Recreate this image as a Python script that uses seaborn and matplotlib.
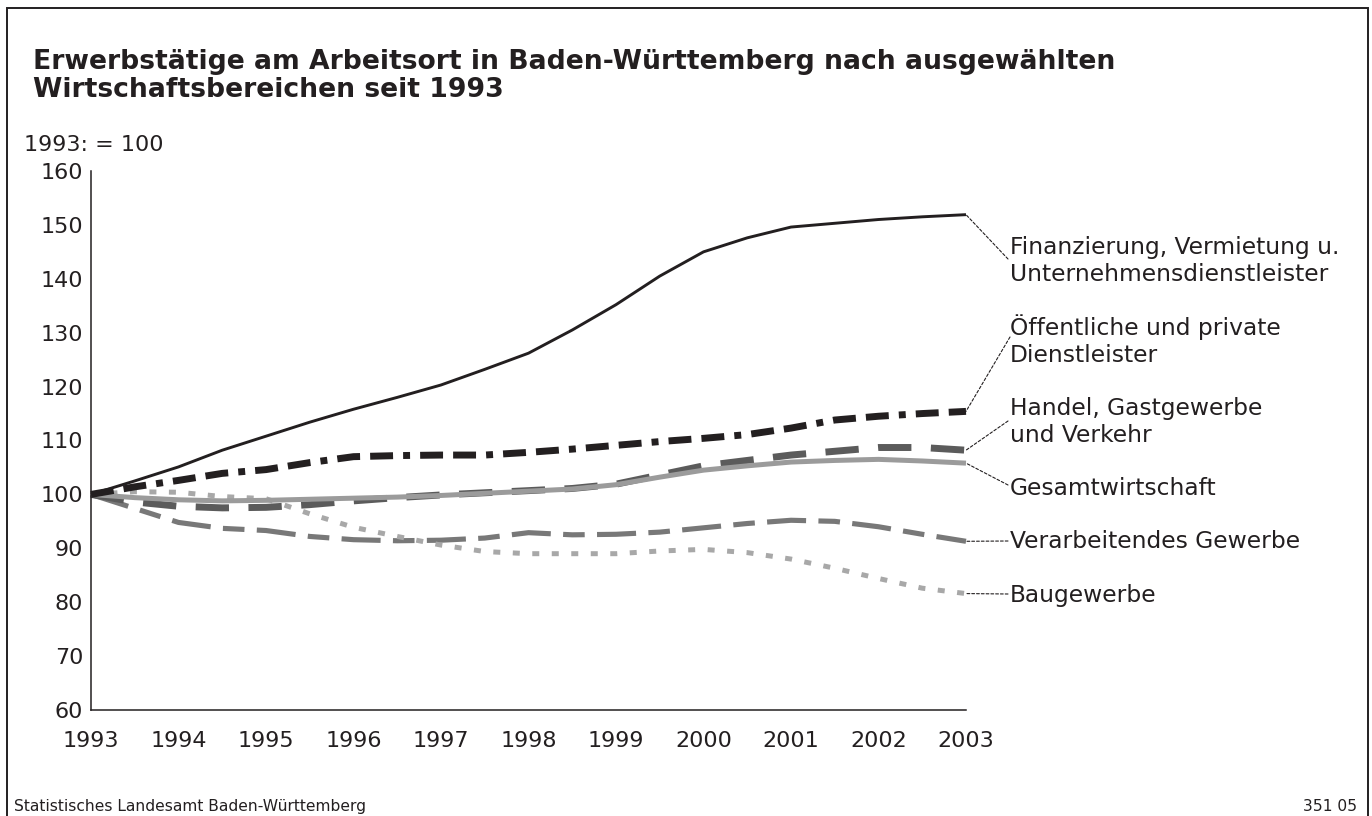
import numpy as np
import pandas as pd
import matplotlib
matplotlib.use("Agg")
import matplotlib.pyplot as plt
from matplotlib.patches import Rectangle
import seaborn as sns

# ---------------- data ----------------
half_years = [1993.0, 1993.5, 1994.0, 1994.5, 1995.0, 1995.5, 1996.0, 1996.5,
              1997.0, 1997.5, 1998.0, 1998.5, 1999.0, 1999.5, 2000.0, 2000.5,
              2001.0, 2001.5, 2002.0, 2002.5, 2003.0]

finanzierung = [100.0, 102.5, 105.1, 108.2, 110.8, 113.4, 115.8, 118.0,
                120.3, 123.2, 126.2, 130.5, 135.2, 140.5, 145.0, 147.6,
                149.6, 150.3, 151.0, 151.5, 151.9]
oeffentliche = [100.0, 101.4, 102.6, 103.9, 104.6, 105.9, 107.0, 107.2,
                107.3, 107.3, 107.8, 108.4, 109.1, 109.8, 110.4, 111.1,
                112.3, 113.8, 114.5, 115.0, 115.4]
handel = [100.0, 98.6, 97.8, 97.5, 97.6, 98.1, 98.8, 99.4,
          99.9, 100.3, 100.7, 101.1, 101.9, 103.6, 105.3, 106.3,
          107.3, 108.0, 108.7, 108.7, 108.2]
gesamt = [100.0, 99.4, 99.0, 98.8, 98.9, 99.1, 99.3, 99.5,
          99.8, 100.2, 100.6, 101.0, 101.8, 103.2, 104.5, 105.3,
          106.0, 106.3, 106.5, 106.2, 105.8]
verarbeitend = [100.0, 97.4, 94.8, 93.7, 93.3, 92.2, 91.6, 91.4,
                91.5, 91.9, 92.9, 92.5, 92.6, 93.0, 93.8, 94.6,
                95.2, 95.0, 94.0, 92.6, 91.3]
bau = [100.0, 100.5, 100.4, 99.6, 99.2, 96.4, 93.9, 92.2,
       90.6, 89.4, 89.0, 89.0, 89.0, 89.5, 89.8, 89.2,
       88.0, 86.3, 84.4, 82.6, 81.6]

series_names = ["Verarbeitendes Gewerbe", "Baugewerbe", "Handel, Gastgewerbe\nund Verkehr",
                "Gesamtwirtschaft", "Öffentliche und private\nDienstleister",
                "Finanzierung, Vermietung u.\nUnternehmensdienstleister"]
series_values = [verarbeitend, bau, handel, gesamt, oeffentliche, finanzierung]

year_ticks = [1993, 1994, 1995, 1996, 1997, 1998, 1999, 2000, 2001, 2002, 2003]
y_ticks = [60, 70, 80, 90, 100, 110, 120, 130, 140, 150, 160]

# ---------------- styles ----------------
styles = [
    dict(color="#787878", lw=3.7, ls=(0, (7.6, 2.4, 4.2, 2.4))),
    dict(color="#a8a8a8", lw=3.6, ls=(0, (1.4, 2.5))),
    dict(color="#5b5b5b", lw=5.0, ls=(0, (4.8, 2.8))),
    dict(color="#9b9b9b", lw=3.6, ls="-"),
    dict(color="#231f20", lw=5.0, ls=(0, (3.3, 1.45, 3.3, 1.45, 1.0, 1.45))),
    dict(color="#231f20", lw=2.1, ls="-"),
]

# label layout (figure pixels from top-left: x, baseline of LAST line) and connector targets
label_pos = [(1010, 548), (1010, 602), (1010, 442), (1010, 495), (1010, 362), (1010, 281)]
conn_pos = [(1008, 541), (1008, 594), (1008, 421), (1008, 485), (1010, 337), (1008, 259)]

W, H = 1372, 816
sns.set_style("white")
plt.rcParams["font.family"] = ["DejaVu Sans"]
TXT = "#231f20"

fig = plt.figure(figsize=(W / 100, H / 100), dpi=100)
ax = fig.add_axes([91 / W, 1 - 710 / H, (966 - 91) / W, (710 - 171) / H])

for name, vals, st in zip(series_names, series_values, styles):
    df = pd.DataFrame({"Jahr": half_years, "Index": vals})
    sns.lineplot(data=df, x="Jahr", y="Index", ax=ax, color=st["color"],
                 linewidth=st["lw"], linestyle=st["ls"], clip_on=False,
                 solid_capstyle="butt", dash_capstyle="butt")

ax.set_xlim(1993, 2003)
ax.set_ylim(60, 160)
ax.set_xticks(year_ticks)
ax.set_xticklabels([str(y) for y in year_ticks])
ax.set_yticks(y_ticks)
ax.set_xlabel("")
ax.set_ylabel("")
for s in ["top", "right"]:
    ax.spines[s].set_visible(False)
for s in ["left", "bottom"]:
    ax.spines[s].set_linewidth(1.1)
    ax.spines[s].set_color(TXT)
ax.tick_params(axis="both", direction="in", length=11.5, width=1.1, color=TXT,
               labelsize=16, labelcolor=TXT)
ax.tick_params(axis="x", pad=15)
ax.tick_params(axis="y", pad=5.5)

# labels and connectors
for name, vals, (lx, ly), (cx, cy) in zip(series_names, series_values, label_pos, conn_pos):
    fig.text(lx / W, 1 - ly / H, name, fontsize=16.8, color=TXT,
             ha="left", va="baseline", linespacing=1.2)
    ax.annotate("", xy=(half_years[-1], vals[-1]), xytext=(cx, H - cy),
                textcoords="figure pixels",
                arrowprops=dict(arrowstyle="-", color=TXT, lw=0.8,
                                linestyle=(0, (2.5, 1.8)), shrinkA=0, shrinkB=0),
                annotation_clip=False)

# titles and texts
fig.text(33 / W, 1 - 97 / H,
         "Erwerbstätige am Arbeitsort in Baden-Württemberg nach ausgewählten\nWirtschaftsbereichen seit 1993",
         fontsize=19.2, fontweight="bold", color=TXT, ha="left", va="baseline", linespacing=1.1)
fig.text(24 / W, 1 - 151 / H, "1993: = 100", fontsize=16, color=TXT, ha="left", va="baseline")
fig.text(14 / W, 1 - 811 / H, "Statistisches Landesamt Baden-Württemberg", fontsize=11.2,
         color=TXT, ha="left", va="baseline")
fig.text(1357 / W, 1 - 811 / H, "351 05", fontsize=11.2, color=TXT, ha="right", va="baseline")

# frame
fig.patches.append(Rectangle((7 / W, -0.02), (1368 - 7) / W, 1.02 - 8 / H,
                             transform=fig.transFigure, fill=False, lw=1.4,
                             edgecolor=TXT, clip_on=False))

fig.savefig("out.png", dpi=100)
